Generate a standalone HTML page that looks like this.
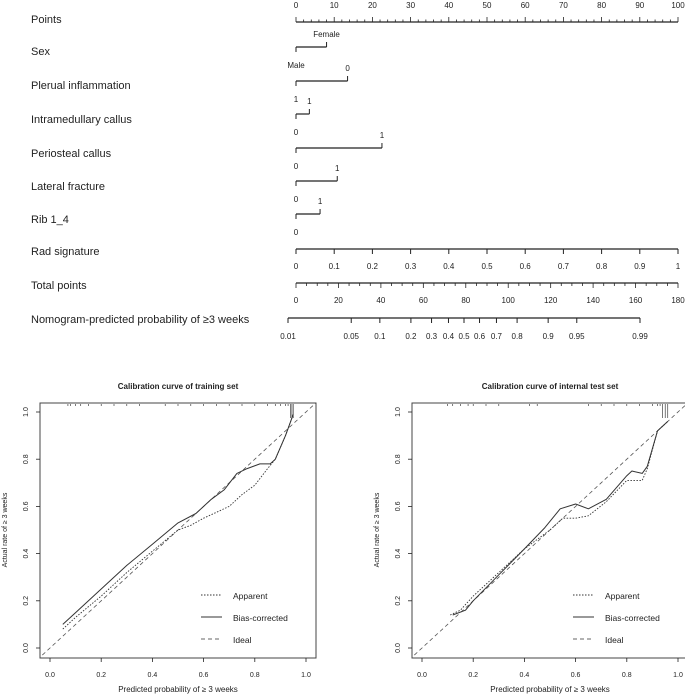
<!DOCTYPE html>
<html><head><meta charset="utf-8"><style>
body{margin:0;background:#fff;}
svg{display:block;font-family:"Liberation Sans",Arial,sans-serif;}
</style></head><body>
<svg id="svg" width="685" height="696" viewBox="0 0 685 696"></svg>
<script>
// ---- Nomogram data ----
const rowNames = ["Points","Sex","Plerual inflammation","Intramedullary callus","Periosteal callus","Lateral fracture","Rib 1_4","Rad signature","Total points","Nomogram-predicted probability of \u22653 weeks"];
const pointTicks = [0,10,20,30,40,50,60,70,80,90,100];
const sexPts = [0,8]; const sexLabels = ["Male","Female"];
const pleuralPts = [0,13.5]; const pleuralLabels = ["1","0"];
const intraPts = [0,3.5]; const intraLabels = ["0","1"];
const perioPts = [0,22.5]; const perioLabels = ["0","1"];
const latPts = [0,10.8]; const latLabels = ["0","1"];
const ribPts = [0,6.3]; const ribLabels = ["0","1"];
const radTicks = [0,0.1,0.2,0.3,0.4,0.5,0.6,0.7,0.8,0.9,1];
const totalTicks = [0,20,40,60,80,100,120,140,160,180];
const probTicks = [0.01,0.05,0.1,0.2,0.3,0.4,0.5,0.6,0.7,0.8,0.9,0.95,0.99];
// ---- Calibration data ----
const trainAppX = [0.05,0.1,0.2,0.3,0.4,0.5,0.55,0.6,0.7,0.75,0.8,0.85,0.88,0.92,0.95];
const trainAppY = [0.08,0.13,0.22,0.32,0.41,0.5,0.52,0.55,0.6,0.65,0.69,0.76,0.8,0.9,0.99];
const trainBcX = [0.05,0.1,0.2,0.3,0.4,0.5,0.57,0.63,0.68,0.73,0.77,0.82,0.86,0.88,0.92,0.95];
const trainBcY = [0.10,0.15,0.25,0.35,0.44,0.53,0.57,0.63,0.67,0.74,0.76,0.78,0.78,0.8,0.9,0.99];
const testAppX = [0.11,0.15,0.2,0.3,0.4,0.5,0.55,0.6,0.65,0.72,0.8,0.86,0.88,0.92,0.96];
const testAppY = [0.14,0.16,0.22,0.32,0.42,0.5,0.55,0.55,0.56,0.62,0.71,0.71,0.76,0.92,0.96];
const testBcX = [0.12,0.17,0.2,0.3,0.4,0.48,0.54,0.6,0.65,0.72,0.8,0.82,0.86,0.88,0.92,0.96];
const testBcY = [0.14,0.16,0.2,0.31,0.42,0.51,0.59,0.61,0.59,0.63,0.73,0.75,0.74,0.77,0.92,0.96];
const calTicks = [0,0.2,0.4,0.6,0.8,1.0];

const svg = document.getElementById('svg');
const NS = "http://www.w3.org/2000/svg";
function mk(tag, attrs, parent){const e=document.createElementNS(NS,tag);for(const k in attrs)e.setAttribute(k,attrs[k]);(parent||svg).appendChild(e);return e;}
function txt(x,y,s,size,anchor,parent){const t=mk('text',{x:x,y:y,'font-size':size,'text-anchor':anchor||'start',fill:'#222'},parent);t.textContent=s;return t;}

const P0=296,P1=678;
const px = p => P0 + (P1-P0)*p/100;
const rowY=[18,50,84,118,152,185,218,250,284,318];
rowNames.forEach((n,i)=>{const t=txt(31,rowY[i]+5,n,11,'start');

});
const line=(x1,y1,x2,y2,g,w)=>mk('line',{x1:x1,y1:y1,x2:x2,y2:y2,stroke:'#222','stroke-width':w||1.2},g);

let g=mk('g',{});


line(px(0),22,px(100),22,g);
for(let v=0;v<=100;v+=2){line(px(v),22,px(v),v%10===0?17:19.5,g,0.8);}
pointTicks.forEach(v=>txt(px(v),8,String(v),8,'middle',g));

function binRow(pts,labels,y){
  const gg=mk('g',{});
  
  
  const x0=px(pts[0]),x1=px(pts[1]);
  line(x0,y-2,x1,y-2,gg);
  line(x0,y-2,x0,y+3,gg,1); line(x1,y-2,x1,y-7,gg,1);
  txt(x0,y+19,labels[0],8,'middle',gg);
  txt(x1,y-12,labels[1],8,'middle',gg);
}
binRow(sexPts,sexLabels,49);
binRow(pleuralPts,pleuralLabels,83);
binRow(intraPts,intraLabels,116);
binRow(perioPts,perioLabels,150);
binRow(latPts,latLabels,183);
binRow(ribPts,ribLabels,216);

g=mk('g',{});


line(px(0),249,px(100),249,g);
radTicks.forEach(v=>{line(px(v*100),249,px(v*100),254,g,1);txt(px(v*100),269,String(v),8,'middle',g);});

g=mk('g',{});


const tx=v=>P0+(P1-P0)*v/180;
line(tx(0),283,tx(180),283,g);
for(let v=0;v<=180;v+=5){line(tx(v),283,tx(v),v%20===0?288:286,g,0.8);}
totalTicks.forEach(v=>txt(tx(v),303,String(v),8,'middle',g));

g=mk('g',{});


const logit=p=>Math.log(p/(1-p));
const prx=p=>464+38.3*logit(p);
line(prx(0.01),318,prx(0.99),318,g);
probTicks.forEach(p=>{line(prx(p),318,prx(p),323,g,1);txt(prx(p),339,String(p),8,'middle',g);});

function calPlot(ox,title,appX,appY,bcX,bcY,rugX,name){
  const gg=mk('g',{});
  
  
  const X0=ox+10,X1=ox+266,Y0=648,Y1=412;
  const sx=v=>X0+(X1-X0)*v, sy=v=>Y0+(Y1-Y0)*v;
  mk('rect',{x:ox,y:403,width:276,height:255,fill:'none',stroke:'#444','stroke-width':1},gg);
  const t=txt(ox+138,389,title,8,'middle',gg); t.setAttribute('font-weight','bold');
  calTicks.forEach(v=>{line(sx(v),658,sx(v),662,gg,0.8);txt(sx(v),677,v.toFixed(1),7,'middle',gg);
    line(ox,sy(v),ox-4,sy(v),gg,0.8);
    const l=txt(ox-12,sy(v),v.toFixed(1),7,'middle',gg);l.setAttribute('transform',`rotate(-90 ${ox-12} ${sy(v)})`);});
  txt(ox+138,692,"Predicted probability of \u2265 3 weeks",8,'middle',gg);
  const yl=txt(ox-33,530,"Actual rate of \u2265 3 weeks",7,'middle',gg);yl.setAttribute('transform',`rotate(-90 ${ox-33} 530)`);
  mk('line',{x1:sx(-0.03),y1:sy(-0.03),x2:sx(1.04),y2:sy(1.04),stroke:'#555','stroke-width':0.8,'stroke-dasharray':'4,3'},gg);
  const path=(xs,ys,dash,nm)=>{const p=mk('path',{d:xs.map((x,i)=>(i?'L':'M')+sx(x).toFixed(1)+','+sy(ys[i]).toFixed(1)).join(''),fill:'none',stroke:'#333','stroke-width':dash?0.9:1,'stroke-dasharray':dash||'none','stroke-linejoin':'round'},gg);
    };
  path(appX,appY,'1.5,1.5','apparent-line');
  path(bcX,bcY,null,'bias-corrected-line');
  rugX.forEach(v=>line(sx(v),404,sx(v),v>0.93?418:406,gg,0.6));
  const lx=ox+161;
  const lg=mk('g',{},gg);
  
  
  mk('line',{x1:lx,y1:595,x2:lx+21,y2:595,stroke:'#333','stroke-dasharray':'1.5,1.5'},lg);
  mk('line',{x1:lx,y1:617,x2:lx+21,y2:617,stroke:'#333'},lg);
  mk('line',{x1:lx,y1:639,x2:lx+21,y2:639,stroke:'#333','stroke-dasharray':'4,3','stroke-width':0.8},lg);
  txt(lx+32,599,"Apparent",8.5,'start',lg);
  txt(lx+32,621,"Bias-corrected",8.5,'start',lg);
  txt(lx+32,643,"Ideal",8.5,'start',lg);
}
const trainRug=[0.07,0.08,0.1,0.12,0.15,0.2,0.25,0.3,0.35,0.45,0.5,0.55,0.6,0.65,0.7,0.75,0.8,0.85,0.88,0.9,0.92,0.93,0.94,0.945,0.95];
const testRug=[0.1,0.12,0.15,0.18,0.2,0.25,0.3,0.42,0.45,0.65,0.7,0.75,0.8,0.85,0.9,0.92,0.93,0.94,0.95,0.96];
calPlot(40,"Calibration curve of training set",trainAppX,trainAppY,trainBcX,trainBcY,trainRug,'training-calibration-plot');
calPlot(412,"Calibration curve of internal test set",testAppX,testAppY,testBcX,testBcY,testRug,'test-calibration-plot');
</script>
</body></html>
